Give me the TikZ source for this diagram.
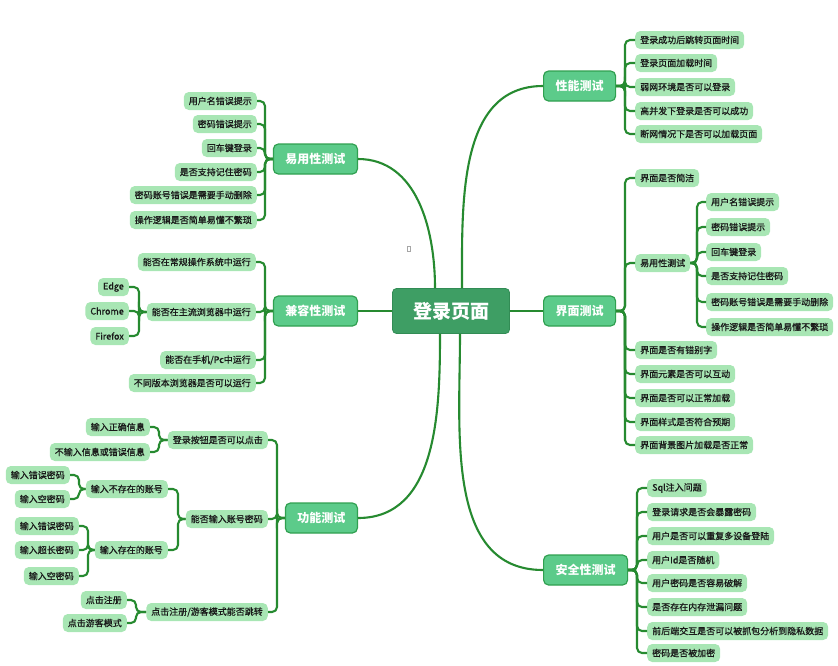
\documentclass[tikz,border=0pt]{standalone}
\usepackage{fontspec}
\setmainfont{Noto Sans CJK SC}
\newfontfamily\leaffont[FakeBold=0.8]{Noto Sans CJK SC}
\definecolor{lineg}{RGB}{38,138,48}
\definecolor{rootg}{RGB}{62,158,100}
\definecolor{rootb}{RGB}{50,140,85}
\definecolor{topg}{RGB}{92,203,138}
\definecolor{topb}{RGB}{48,160,80}
\definecolor{leafg}{RGB}{168,230,180}
\definecolor{leaft}{RGB}{25,25,25}
\tikzset{
  conn/.style={draw=lineg, line width=2.1pt, rounded corners=5pt},
  mainconn/.style={draw=lineg, line width=2.1pt},
  rootbox/.style={fill=rootg, draw=rootb, line width=0.8pt, rounded corners=4pt,
    minimum width=117pt, minimum height=45pt, text=white,
    font=\fontsize{19}{19}\bfseries\selectfont},
  topicbox/.style={fill=topg, draw=topb, line width=1.2pt, rounded corners=5pt,
    minimum height=30pt, inner xsep=12pt, text=white,
    font=\fontsize{12}{12}\bfseries\selectfont},
  leafbox/.style={fill=leafg, rounded corners=5pt, minimum height=18pt,
    inner xsep=5pt, inner ysep=0pt, text=leaft,
    font=\leaffont\fontsize{9}{9}\selectfont},
}
\begin{document}
\begin{tikzpicture}[x=1pt,y=-1pt]
\useasboundingbox (0,0) rectangle (838,665);

% root
\node[rootbox] (root) at (451,311) {登录页面};

% level 1
\node[topicbox, anchor=west] (xn) at (543,86) {性能测试};
\node[topicbox, anchor=west] (jm) at (543,311) {界面测试};
\node[topicbox, anchor=west] (aq) at (543,570) {安全性测试};
\node[topicbox, anchor=east] (yy) at (358,159) {易用性测试};
\node[topicbox, anchor=east] (jr) at (358,311) {兼容性测试};
\node[topicbox, anchor=east] (gn) at (358,518) {功能测试};

% main connectors
\begin{scope}[on background layer/.style={}]
\draw[mainconn] ([xshift=11pt]root.north) to[out=90,in=180] (xn.west);
\draw[mainconn] ([xshift=-16pt]root.north) to[out=90,in=0] (yy.east);
\draw[mainconn] ([xshift=9pt]root.south) to[out=-90,in=180] (aq.west);
\draw[mainconn] ([xshift=-11pt]root.south) to[out=-90,in=0] (gn.east);
\draw[mainconn] (root.east) -- (jm.west);
\draw[mainconn] (root.west) -- (jr.east);
\end{scope}

% 性能测试
\node[leafbox, anchor=west] (xn1) at (635,40) {登录成功后跳转页面时间};
\node[leafbox, anchor=west] (xn2) at (635,63) {登录页面加载时间};
\node[leafbox, anchor=west] (xn3) at (635,87) {弱网环境是否可以登录};
\node[leafbox, anchor=west] (xn4) at (635,111) {高并发下登录是否可以成功};
\node[leafbox, anchor=west] (xn5) at (635,134) {断网情况下是否可以加载页面};
\foreach \c in {xn1,xn2,xn3,xn4,xn5}
  \draw[conn] (xn.east) -| ([xshift=-10pt]\c.west) -- (\c.west);

% 界面测试
\node[leafbox, anchor=west] (jm1) at (635,178) {界面是否简洁};
\node[leafbox, anchor=west] (jm2) at (635,263) {易用性测试};
\node[leafbox, anchor=west] (jm3) at (635,350) {界面是否有错别字};
\node[leafbox, anchor=west] (jm4) at (635,374) {界面元素是否可以互动};
\node[leafbox, anchor=west] (jm5) at (635,398) {界面是否可以正常加载};
\node[leafbox, anchor=west] (jm6) at (635,422) {界面样式是否符合预期};
\node[leafbox, anchor=west] (jm7) at (635,445) {界面背景图片加载是否正常};
\foreach \c in {jm1,jm2,jm3,jm4,jm5,jm6,jm7}
  \draw[conn] (jm.east) -| ([xshift=-10pt]\c.west) -- (\c.west);

\node[leafbox, anchor=west] (jy1) at (706,202) {用户名错误提示};
\node[leafbox, anchor=west] (jy2) at (706,227) {密码错误提示};
\node[leafbox, anchor=west] (jy3) at (706,252) {回车键登录};
\node[leafbox, anchor=west] (jy4) at (706,276) {是否支持记住密码};
\node[leafbox, anchor=west] (jy5) at (706,302) {密码账号错误是需要手动删除};
\node[leafbox, anchor=west] (jy6) at (706,327) {操作逻辑是否简单易懂不繁琐};
\foreach \c in {jy1,jy2,jy3,jy4,jy5,jy6}
  \draw[conn] (jm2.east) -| ([xshift=-9pt]\c.west) -- (\c.west);

% 安全性测试
\node[leafbox, anchor=west] (aq1) at (647,488) {Sql注入问题};
\node[leafbox, anchor=west] (aq2) at (647,512) {登录请求是否会暴露密码};
\node[leafbox, anchor=west] (aq3) at (647,536) {用户是否可以重复多设备登陆};
\node[leafbox, anchor=west] (aq4) at (647,560) {用户Id是否随机};
\node[leafbox, anchor=west] (aq5) at (647,583) {用户密码是否容易破解};
\node[leafbox, anchor=west] (aq6) at (647,607) {是否存在内存泄漏问题};
\node[leafbox, anchor=west] (aq7) at (647,631) {前后端交互是否可以被抓包分析到隐私数据};
\node[leafbox, anchor=west] (aq8) at (647,653) {密码是否被加密};
\foreach \c in {aq1,aq2,aq3,aq4,aq5,aq6,aq7,aq8}
  \draw[conn] (aq.east) -| ([xshift=-10pt]\c.west) -- (\c.west);

% 易用性测试 (left)
\node[leafbox, anchor=east] (yy1) at (257,101) {用户名错误提示};
\node[leafbox, anchor=east] (yy2) at (257,124) {密码错误提示};
\node[leafbox, anchor=east] (yy3) at (257,148) {回车键登录};
\node[leafbox, anchor=east] (yy4) at (257,172) {是否支持记住密码};
\node[leafbox, anchor=east] (yy5) at (257,195) {密码账号错误是需要手动删除};
\node[leafbox, anchor=east] (yy6) at (257,220) {操作逻辑是否简单易懂不繁琐};
\foreach \c in {yy1,yy2,yy3,yy4,yy5,yy6}
  \draw[conn] (yy.west) -| ([xshift=8pt]\c.east) -- (\c.east);

% 兼容性测试
\node[leafbox, anchor=east] (jr1) at (256,262) {能否在常规操作系统中运行};
\node[leafbox, anchor=east] (jr2) at (256,312) {能否在主流浏览器中运行};
\node[leafbox, anchor=east] (jr3) at (256,360) {能否在手机/Pc中运行};
\node[leafbox, anchor=east] (jr4) at (256,383) {不同版本浏览器是否可以运行};
\foreach \c in {jr1,jr2,jr3,jr4}
  \draw[conn] (jr.west) -| ([xshift=9pt]\c.east) -- (\c.east);

\node[leafbox, anchor=east] (br1) at (129,287) {Edge};
\node[leafbox, anchor=east] (br2) at (129,311) {Chrome};
\node[leafbox, anchor=east] (br3) at (129,336) {Firefox};
\foreach \c in {br1,br2,br3}
  \draw[conn] (jr2.west) -| ([xshift=10pt]\c.east) -- (\c.east);

% 功能测试
\node[leafbox, anchor=east] (gn1) at (268,440) {登录按钮是否可以点击};
\node[leafbox, anchor=east] (gn2) at (268,519) {能否输入账号密码};
\node[leafbox, anchor=east] (gn3) at (268,612) {点击注册/游客模式能否跳转};
\foreach \c in {gn1,gn2,gn3}
  \draw[conn] (gn.west) -| ([xshift=9pt]\c.east) -- (\c.east);

\node[leafbox, anchor=east] (dl1) at (150,427) {输入正确信息};
\node[leafbox, anchor=east] (dl2) at (150,452) {不输入信息或错误信息};
\foreach \c in {dl1,dl2}
  \draw[conn] (gn1.west) -| ([xshift=9pt]\c.east) -- (\c.east);

\node[leafbox, anchor=east] (sr1) at (168,489) {输入不存在的账号};
\node[leafbox, anchor=east] (sr2) at (168,550) {输入存在的账号};
\foreach \c in {sr1,sr2}
  \draw[conn] (gn2.west) -| ([xshift=10pt]\c.east) -- (\c.east);

\node[leafbox, anchor=east] (bz1) at (70,475) {输入错误密码};
\node[leafbox, anchor=east] (bz2) at (70,499) {输入空密码};
\foreach \c in {bz1,bz2}
  \draw[conn] (sr1.west) -| ([xshift=9pt]\c.east) -- (\c.east);

\node[leafbox, anchor=east] (cz1) at (79,526) {输入错误密码};
\node[leafbox, anchor=east] (cz2) at (79,550) {输入超长密码};
\node[leafbox, anchor=east] (cz3) at (79,576) {输入空密码};
\foreach \c in {cz1,cz2,cz3}
  \draw[conn] (sr2.west) -| ([xshift=9pt]\c.east) -- (\c.east);

\node[leafbox, anchor=east] (zc1) at (127,600) {点击注册};
\node[leafbox, anchor=east] (zc2) at (127,623) {点击游客模式};
\foreach \c in {zc1,zc2}
  \draw[conn] (gn3.west) -| ([xshift=9pt]\c.east) -- (\c.east);

% tiny mark
\draw[gray!70, line width=0.5pt] (407.5,246.5) rectangle (410.5,251.5);
\end{tikzpicture}
\end{document}
